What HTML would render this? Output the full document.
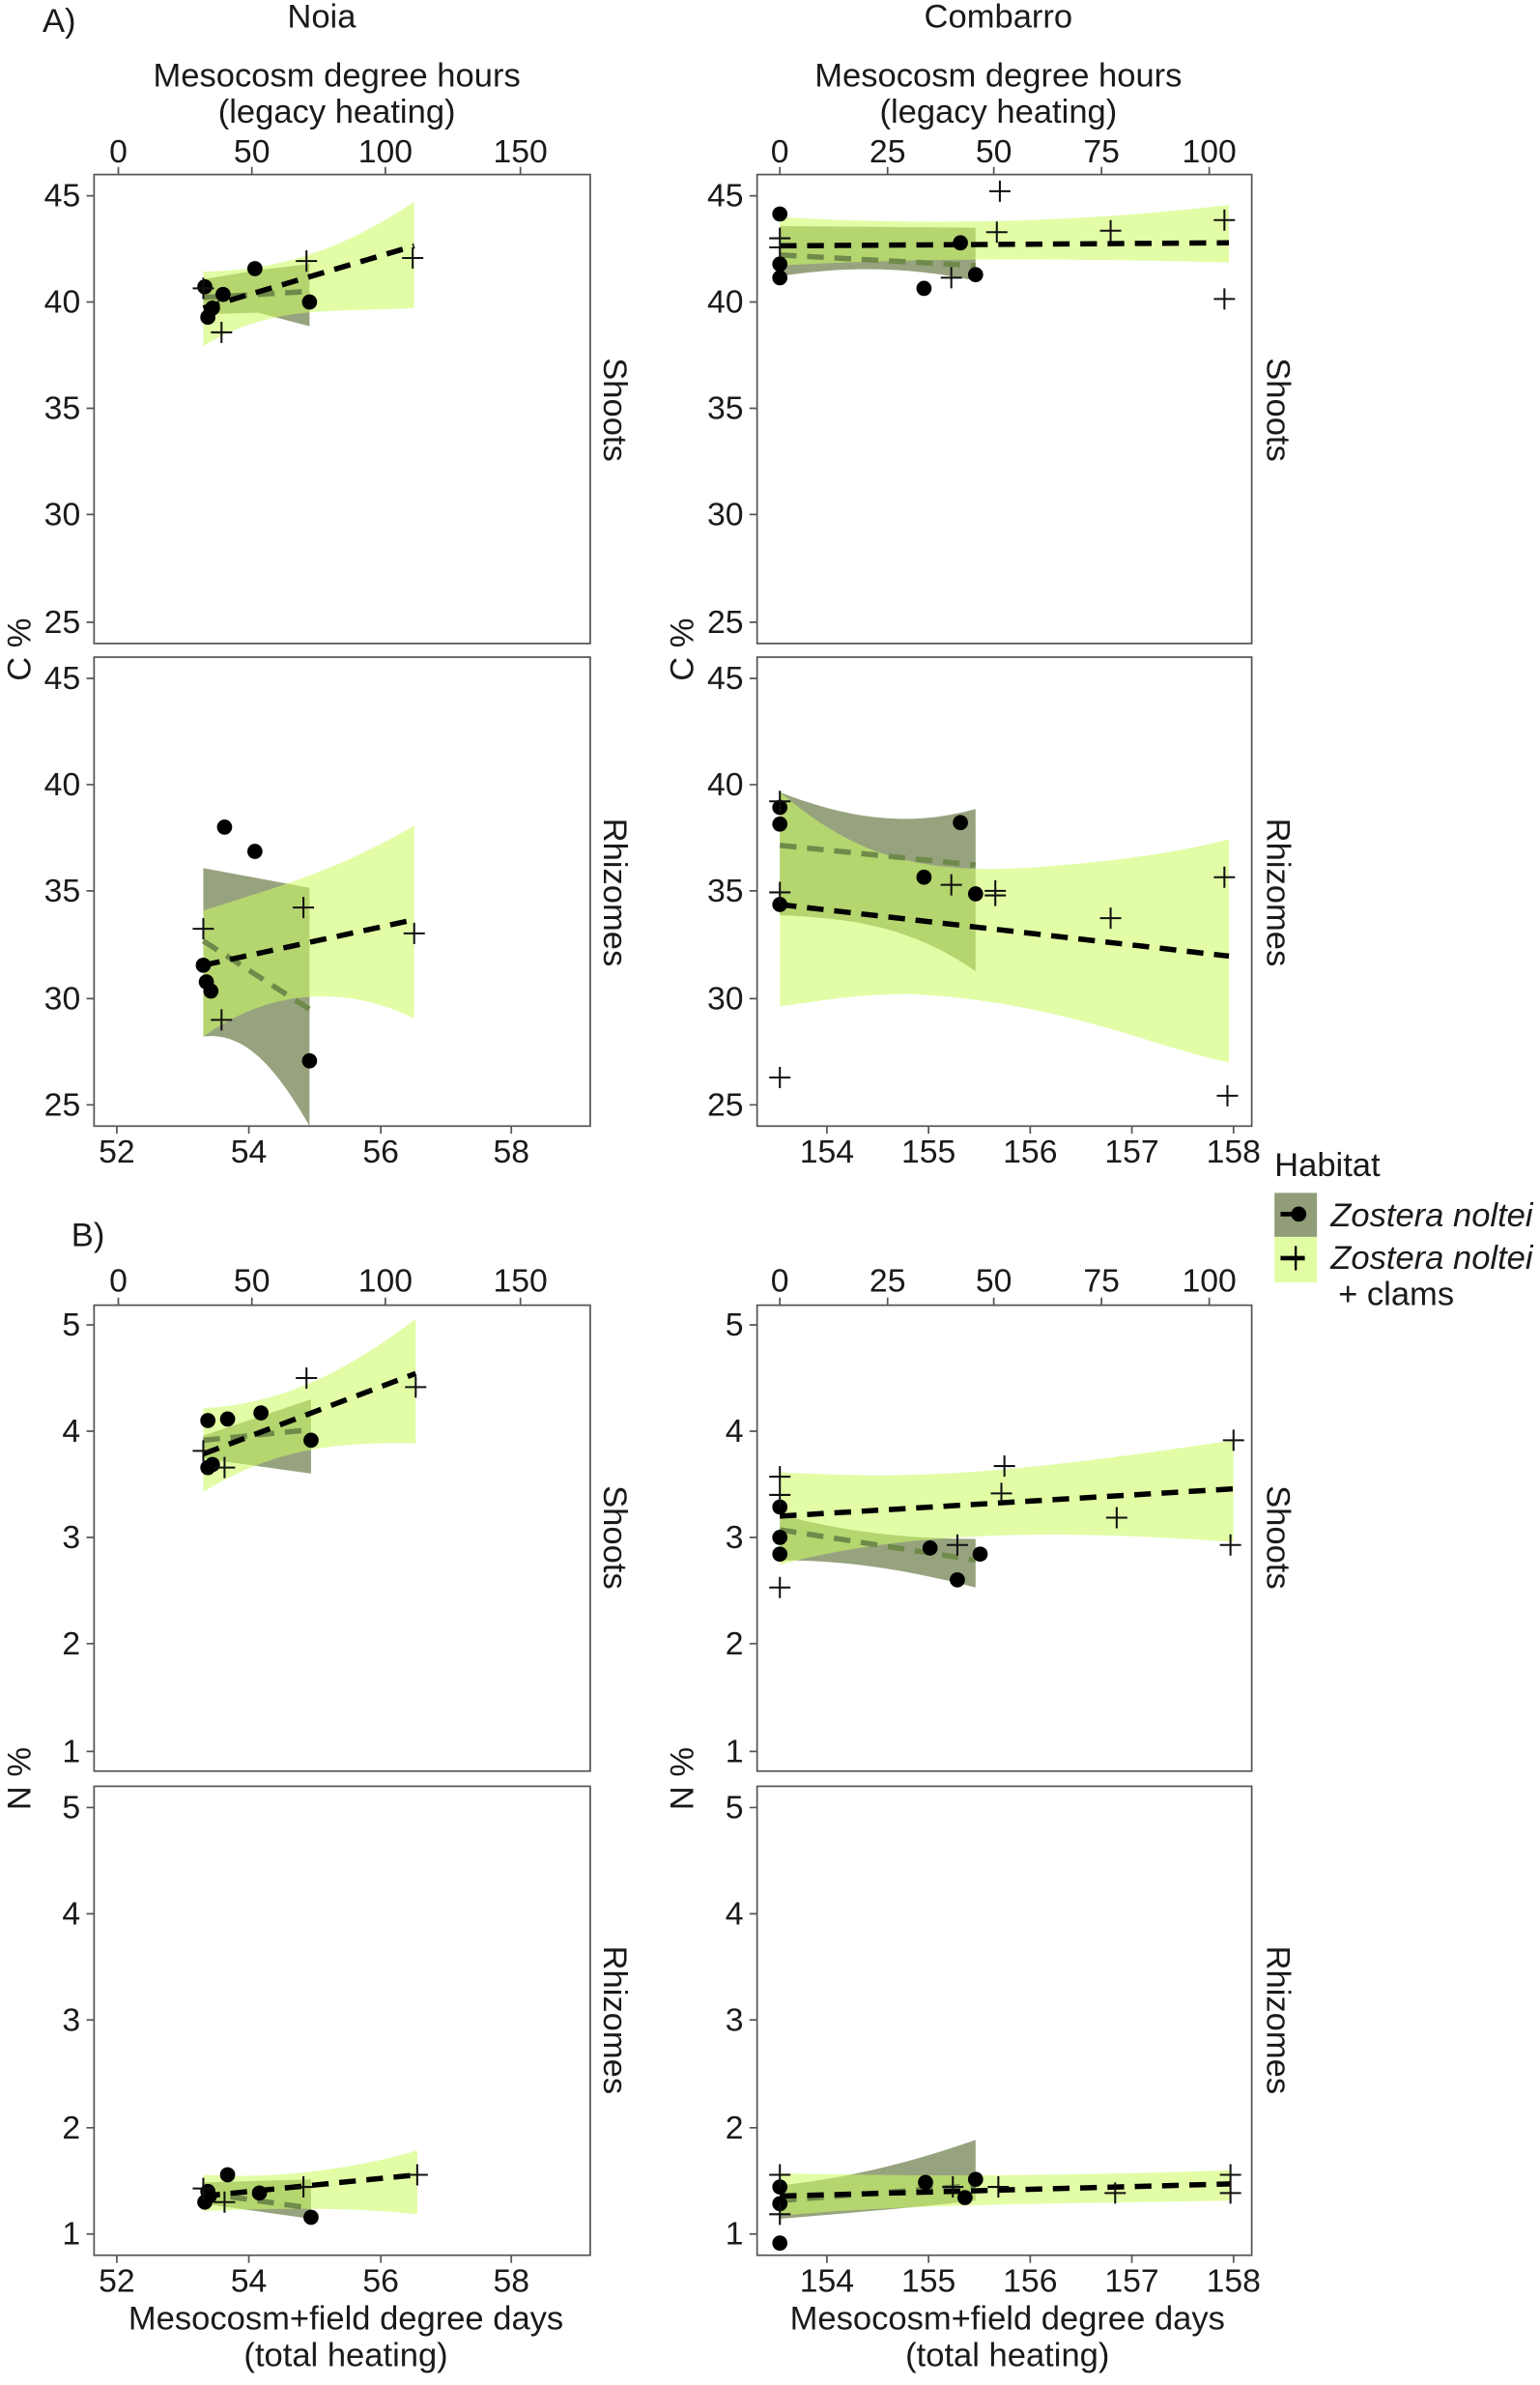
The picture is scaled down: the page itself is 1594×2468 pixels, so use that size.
<!DOCTYPE html>
<html><head><meta charset="utf-8"><style>html,body{margin:0;padding:0;background:#fff}svg{display:block}</style></head><body>
<svg width="1594" height="2468" viewBox="0 0 1015 1571.5" preserveAspectRatio="none" xmlns="http://www.w3.org/2000/svg" font-family="Liberation Sans, sans-serif" fill="#1a1a1a">
<style>.t{font-size:21.5px}.s{font-size:22px}.b{fill:none;stroke:#555;stroke-width:1.1}.k{stroke:#555;stroke-width:1.1}.L{fill:rgb(204,251,98);fill-opacity:.57}.D{fill:#97a37f}.p{stroke:#111;stroke-width:1.3;fill:none}.bl{stroke:#000;stroke-width:3.5;stroke-dasharray:11 7;fill:none}.gl{stroke:#6f8a4a;stroke-width:3.5;stroke-dasharray:11 7;fill:none}</style>

<text x="28" y="21" class="s">A)</text>
<text x="212" y="18" class="s" text-anchor="middle">Noia</text>
<text x="658" y="18" class="s" text-anchor="middle">Combarro</text>
<text x="222" y="57" class="s" text-anchor="middle">Mesocosm degree hours</text>
<text x="222" y="81" class="s" text-anchor="middle">(legacy heating)</text>
<text x="658" y="57" class="s" text-anchor="middle">Mesocosm degree hours</text>
<text x="658" y="81" class="s" text-anchor="middle">(legacy heating)</text>
<text x="47" y="821" class="s">B)</text>

<g class="t" text-anchor="middle">
<text x="78" y="107">0</text><text x="166" y="107">50</text><text x="254" y="107">100</text><text x="343" y="107">150</text>
<text x="514" y="107">0</text><text x="585" y="107">25</text><text x="655" y="107">50</text><text x="726" y="107">75</text><text x="797" y="107">100</text>
<text x="78" y="851">0</text><text x="166" y="851">50</text><text x="254" y="851">100</text><text x="343" y="851">150</text>
<text x="514" y="851">0</text><text x="585" y="851">25</text><text x="655" y="851">50</text><text x="726" y="851">75</text><text x="797" y="851">100</text>
<text x="77" y="766">52</text><text x="164" y="766">54</text><text x="251" y="766">56</text><text x="337" y="766">58</text>
<text x="545" y="766">154</text><text x="612" y="766">155</text><text x="679" y="766">156</text><text x="746" y="766">157</text><text x="813" y="766">158</text>
<text x="77" y="1510">52</text><text x="164" y="1510">54</text><text x="251" y="1510">56</text><text x="337" y="1510">58</text>
<text x="545" y="1510">154</text><text x="612" y="1510">155</text><text x="679" y="1510">156</text><text x="746" y="1510">157</text><text x="813" y="1510">158</text>
</g>
<g class="k">
<path d="M78 110v5M166 110v5M254 110v5M343 110v5M514 110v5M585 110v5M655 110v5M726 110v5M797 110v5"/>
<path d="M78 855v5M166 855v5M254 855v5M343 855v5M514 855v5M585 855v5M655 855v5M726 855v5M797 855v5"/>
<path d="M77 742v5M164 742v5M251 742v5M337 742v5M545 742v5M612 742v5M679 742v5M746 742v5M813 742v5"/>
<path d="M77 1486v5M164 1486v5M251 1486v5M337 1486v5M545 1486v5M612 1486v5M679 1486v5M746 1486v5M813 1486v5"/>
</g>

<g class="t" text-anchor="end">
<text x="53" y="136">45</text><text x="53" y="206">40</text><text x="53" y="276">35</text><text x="53" y="346">30</text><text x="53" y="417">25</text>
<text x="53" y="454">45</text><text x="53" y="524">40</text><text x="53" y="594">35</text><text x="53" y="665">30</text><text x="53" y="735">25</text>
<text x="490" y="136">45</text><text x="490" y="206">40</text><text x="490" y="276">35</text><text x="490" y="346">30</text><text x="490" y="417">25</text>
<text x="490" y="454">45</text><text x="490" y="524">40</text><text x="490" y="594">35</text><text x="490" y="665">30</text><text x="490" y="735">25</text>
<text x="53" y="880">5</text><text x="53" y="950">4</text><text x="53" y="1020">3</text><text x="53" y="1090">2</text><text x="53" y="1161">1</text>
<text x="53" y="1198">5</text><text x="53" y="1268">4</text><text x="53" y="1338">3</text><text x="53" y="1409">2</text><text x="53" y="1479">1</text>
<text x="490" y="880">5</text><text x="490" y="950">4</text><text x="490" y="1020">3</text><text x="490" y="1090">2</text><text x="490" y="1161">1</text>
<text x="490" y="1198">5</text><text x="490" y="1268">4</text><text x="490" y="1338">3</text><text x="490" y="1409">2</text><text x="490" y="1479">1</text>
</g>
<g class="k">
<path d="M57 129h5M57 199h5M57 269h5M57 339h5M57 410h5M57 447h5M57 517h5M57 587h5M57 658h5M57 728h5"/>
<path d="M494 129h5M494 199h5M494 269h5M494 339h5M494 410h5M494 447h5M494 517h5M494 587h5M494 658h5M494 728h5"/>
<path d="M57 873h5M57 943h5M57 1013h5M57 1083h5M57 1154h5M57 1191h5M57 1261h5M57 1331h5M57 1402h5M57 1472h5"/>
<path d="M494 873h5M494 943h5M494 1013h5M494 1083h5M494 1154h5M494 1191h5M494 1261h5M494 1331h5M494 1402h5M494 1472h5"/>
</g>

<text transform="translate(20,428) rotate(-90)" class="s" text-anchor="middle">C %</text>
<text transform="translate(457,428) rotate(-90)" class="s" text-anchor="middle">C %</text>
<text transform="translate(20,1172) rotate(-90)" class="s" text-anchor="middle">N %</text>
<text transform="translate(457,1172) rotate(-90)" class="s" text-anchor="middle">N %</text>
<g class="s" text-anchor="middle">
<text transform="translate(398,270) rotate(90)">Shoots</text>
<text transform="translate(398,588) rotate(90)">Rhizomes</text>
<text transform="translate(835,270) rotate(90)">Shoots</text>
<text transform="translate(835,588) rotate(90)">Rhizomes</text>
<text transform="translate(398,1013) rotate(90)">Shoots</text>
<text transform="translate(398,1331) rotate(90)">Rhizomes</text>
<text transform="translate(835,1013) rotate(90)">Shoots</text>
<text transform="translate(835,1331) rotate(90)">Rhizomes</text>
</g>
<text x="228" y="1535" class="s" text-anchor="middle">Mesocosm+field degree days</text>
<text x="228" y="1559" class="s" text-anchor="middle">(total heating)</text>
<text x="664" y="1535" class="s" text-anchor="middle">Mesocosm+field degree days</text>
<text x="664" y="1559" class="s" text-anchor="middle">(total heating)</text>

<text x="840" y="775" class="s">Habitat</text>
<rect x="840" y="786" width="28" height="29" fill="#909d78"/>
<rect x="840" y="815" width="28" height="30" fill="#e2fca4"/>
<path d="M844 800h16M844 829h16" stroke="#000" stroke-width="3"/>
<path d="M854 821v16" stroke="#000" stroke-width="1.5"/>
<circle cx="856" cy="800" r="5" fill="#000"/>
<g class="s" font-style="italic"><text x="877" y="808">Zostera noltei</text><text x="877" y="836">Zostera noltei</text></g>
<text x="882" y="860" class="s">+ clams</text>

<path class="D" d="M134 184 L170 178 L204 174 L204 215 L170 206 L134 207Z"/>
<path class="L" d="M134 179 C180 178 220 168 273 133 L273 203 C220 206 180 200 134 228Z"/>
<path class="gl" d="M134 196 L204 192"/>
<path class="bl" d="M134 203 L273 162"/>
<g fill="#000"><circle cx="135" cy="189" r="5"/><circle cx="147" cy="194" r="5"/><circle cx="140" cy="203" r="5"/><circle cx="137" cy="209" r="5"/><circle cx="168" cy="177" r="5"/><circle cx="204" cy="199" r="5"/></g>
<path class="p" d="M127 190h14M134 183v14M139 219h14M146 212v14M195 172h14M202 165v14M265 170h14M272 163v14"/>
<rect x="62" y="115" width="327" height="309" class="b"/>

<path class="D" d="M134 572 L204 585 L204 742 C180 700 160 680 134 683Z"/>
<path class="L" d="M134 600 C180 585 220 575 273 544 L273 671 C230 650 180 650 134 683Z"/>
<path class="gl" d="M134 620 L204 665"/>
<path class="bl" d="M134 636 L273 606"/>
<g fill="#000"><circle cx="148" cy="545" r="5"/><circle cx="168" cy="561" r="5"/><circle cx="134" cy="636" r="5"/><circle cx="136" cy="647" r="5"/><circle cx="139" cy="653" r="5"/><circle cx="204" cy="699" r="5"/></g>
<path class="p" d="M127 612h14M134 605v14M139 672h14M146 665v14M193 598h14M200 591v14M266 615h14M273 608v14"/>
<rect x="62" y="433" width="327" height="309" class="b"/>

<path class="D" d="M514 149 L643 150 L643 185 C600 176 560 175 514 182Z"/>
<path class="L" d="M514 143 C600 148 700 148 810 135 L810 173 C700 170 600 170 514 175Z"/>
<path class="gl" d="M514 168 L643 175"/>
<path class="bl" d="M514 162 L810 160"/>
<g fill="#000"><circle cx="514" cy="141" r="5"/><circle cx="514" cy="174" r="5"/><circle cx="514" cy="183" r="5"/><circle cx="633" cy="160" r="5"/><circle cx="609" cy="190" r="5"/><circle cx="643" cy="181" r="5"/></g>
<path class="p" d="M507 157h14M514 150v14M507 163h14M514 156v14M652 126h14M659 119v14M650 153h14M657 146v14M620 183h14M627 176v14M725 152h14M732 145v14M800 145h14M807 138v14M800 197h14M807 190v14"/>
<rect x="499" y="115" width="326" height="309" class="b"/>

<path class="D" d="M514 522 C560 540 600 545 643 533 L643 640 C600 610 560 605 514 603Z"/>
<path class="L" d="M514 522 C560 560 600 580 700 570 C760 565 790 558 810 553 L810 700 C760 690 700 660 600 655 C560 655 540 660 514 663Z"/>
<path class="gl" d="M514 557 L643 570"/>
<path class="bl" d="M514 596 L810 630"/>
<g fill="#000"><circle cx="514" cy="532" r="5"/><circle cx="514" cy="543" r="5"/><circle cx="633" cy="542" r="5"/><circle cx="609" cy="578" r="5"/><circle cx="643" cy="589" r="5"/><circle cx="514" cy="596" r="5"/></g>
<path class="p" d="M507 528h14M514 521v14M507 588h14M514 581v14M620 583h14M627 576v14M649 587h14M656 580v14M649 590h14M656 583v14M725 605h14M732 598v14M800 578h14M807 571v14M507 710h14M514 703v14M802 722h14M809 715v14"/>
<rect x="499" y="433" width="326" height="309" class="b"/>

<path class="D" d="M134 946 L205 922 L205 971 L134 961Z"/>
<path class="L" d="M134 928 C180 925 220 910 274 869 L274 951 C220 950 180 955 134 983Z"/>
<path class="gl" d="M134 949 L205 942"/>
<path class="bl" d="M134 958 L274 905"/>
<g fill="#000"><circle cx="137" cy="936" r="5"/><circle cx="150" cy="935" r="5"/><circle cx="172" cy="931" r="5"/><circle cx="205" cy="949" r="5"/><circle cx="137" cy="967" r="5"/><circle cx="140" cy="965" r="5"/></g>
<path class="p" d="M127 956h14M134 949v14M141 967h14M148 960v14M195 908h14M202 901v14M267 914h14M274 907v14"/>
<rect x="62" y="860" width="327" height="307" class="b"/>

<path class="D" d="M134 1438 L205 1436 L205 1462 L134 1452Z"/>
<path class="L" d="M134 1433 C180 1436 230 1430 275 1417 L275 1459 C230 1454 180 1455 134 1457Z"/>
<path class="gl" d="M134 1445 L205 1455"/>
<path class="bl" d="M134 1447 L275 1433"/>
<g fill="#000"><circle cx="137" cy="1444" r="5"/><circle cx="150" cy="1433" r="5"/><circle cx="171" cy="1445" r="5"/><circle cx="205" cy="1461" r="5"/><circle cx="135" cy="1451" r="5"/><circle cx="138" cy="1447" r="5"/></g>
<path class="p" d="M127 1442h14M134 1435v14M141 1451h14M148 1444v14M193 1441h14M200 1434v14M268 1433h14M275 1426v14"/>
<rect x="62" y="1177" width="327" height="309" class="b"/>

<path class="D" d="M514 998 C560 1010 600 1014 643 1014 L643 1046 C600 1035 560 1028 514 1028Z"/>
<path class="L" d="M514 970 C600 975 660 972 813 949 L813 1016 C700 1008 600 1008 514 1031Z"/>
<path class="gl" d="M514 1008 L643 1028"/>
<path class="bl" d="M514 999 L813 981"/>
<g fill="#000"><circle cx="514" cy="993" r="5"/><circle cx="514" cy="1013" r="5"/><circle cx="514" cy="1024" r="5"/><circle cx="613" cy="1020" r="5"/><circle cx="646" cy="1024" r="5"/><circle cx="631" cy="1041" r="5"/></g>
<path class="p" d="M507 973h14M514 966v14M507 985h14M514 978v14M507 1046h14M514 1039v14M655 966h14M662 959v14M653 984h14M660 977v14M624 1018h14M631 1011v14M729 1000h14M736 993v14M806 949h14M813 942v14M804 1018h14M811 1011v14"/>
<rect x="499" y="860" width="326" height="307" class="b"/>

<path class="D" d="M514 1440 C560 1435 600 1425 643 1410 L643 1450 C600 1455 560 1458 514 1462Z"/>
<path class="L" d="M514 1432 C600 1434 700 1434 811 1430 L811 1450 C700 1452 600 1452 514 1460Z"/>
<path class="gl" d="M514 1450 L643 1440"/>
<path class="bl" d="M514 1447 L811 1439"/>
<g fill="#000"><circle cx="514" cy="1441" r="5"/><circle cx="514" cy="1452" r="5"/><circle cx="514" cy="1478" r="5"/><circle cx="610" cy="1438" r="5"/><circle cx="643" cy="1436" r="5"/><circle cx="636" cy="1448" r="5"/></g>
<path class="p" d="M507 1433h14M514 1426v14M507 1459h14M514 1452v14M621 1441h14M628 1434v14M651 1441h14M658 1434v14M728 1445h14M735 1438v14M804 1433h14M811 1426v14M804 1445h14M811 1438v14"/>
<rect x="499" y="1177" width="326" height="309" class="b"/>
</svg>
</body></html>
